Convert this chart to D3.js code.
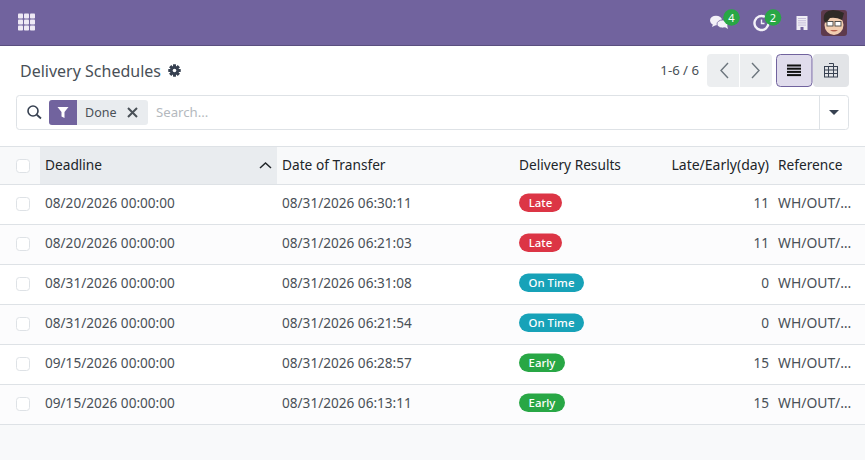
<!DOCTYPE html>
<html>
<head>
<meta charset="utf-8">
<script src="https://cdn.jsdelivr.net/npm/d3@7"></script>
<style>
html, body { margin: 0; padding: 0; background: #fff; overflow: hidden; }
text { font-family: "Noto Sans", sans-serif; }
</style>
</head>
<body>
<div id="chart"></div>
<script>
// Table content
var columns = ["Deadline", "Date of Transfer", "Delivery Results", "Late/Early(day)", "Reference"];
var deadlines = ["08/20/2026 00:00:00", "08/20/2026 00:00:00", "08/31/2026 00:00:00", "08/31/2026 00:00:00", "09/15/2026 00:00:00", "09/15/2026 00:00:00"];
var transfers = ["08/31/2026 06:30:11", "08/31/2026 06:21:03", "08/31/2026 06:31:08", "08/31/2026 06:21:54", "08/31/2026 06:28:57", "08/31/2026 06:13:11"];
var results = ["Late", "Late", "On Time", "On Time", "Early", "Early"];
var lateDays = [11, 11, 0, 0, 15, 15];
var references = ["WH/OUT/…", "WH/OUT/…", "WH/OUT/…", "WH/OUT/…", "WH/OUT/…", "WH/OUT/…"];
var resultNames = ["Late", "On Time", "Early"];
var resultColors = ["#dc3545", "#17a2b8", "#28a745"];

var width = 865, height = 460;
var svg = d3.select("#chart").append("svg")
  .attr("width", width).attr("height", height)
  .style("display", "block");

var y = d3.scaleBand().domain(d3.range(deadlines.length)).range([184, 424]);
var badgeColor = d3.scaleOrdinal().domain(resultNames).range(resultColors);
var badgeWidth = d3.scaleOrdinal().domain(resultNames).range([43, 65, 46]);

// helper for plain text
function label(x, yy, str, size, color, anchor, weight) {
  return svg.append("text")
    .attr("x", x).attr("y", yy)
    .attr("font-size", size)
    .attr("fill", color)
    .attr("text-anchor", anchor || "start")
    .attr("font-weight", weight || 400)
    .text(str);
}

// Navbar
svg.append("rect").attr("width", width).attr("height", 45).attr("fill", "#71639e");
svg.append("rect").attr("y", 45).attr("width", width).attr("height", 1).attr("fill", "#5a4f7f");

// apps icon
d3.range(9).forEach(function(i) {
  svg.append("rect")
    .attr("x", 18 + (i % 3) * 6).attr("y", 13.5 + Math.floor(i / 3) * 6)
    .attr("width", 5).attr("height", 5).attr("rx", 0.8)
    .attr("fill", "#eee9f5");
});

// messages icon
var msg = svg.append("g").attr("fill", "#f3f1f8");
msg.append("ellipse").attr("cx", 716).attr("cy", 20.5).attr("rx", 6).attr("ry", 4.8);
msg.append("ellipse").attr("cx", 722.5).attr("cy", 24).attr("rx", 5.5).attr("ry", 4).attr("stroke", "#71639e").attr("stroke-width", 0.8);
msg.append("path").attr("d", "M724 26.5l4 2.5-1-4z");
msg.append("path").attr("d", "M713 24l-1 3 4-2z");
svg.append("circle").attr("cx", 731.5).attr("cy", 17.5).attr("r", 8.3).attr("fill", "#28a745");
label(731.5, 21.5, "4", 11, "#fff", "middle");

// activities icon
svg.append("path")
  .attr("d", "M765 17a7 7 0 1 0 3.5 6")
  .attr("fill", "none").attr("stroke", "#f3f1f8").attr("stroke-width", 2.4);
svg.append("path").attr("d", "M761.5 19.5v4h3").attr("fill", "none").attr("stroke", "#f3f1f8").attr("stroke-width", 1.4);
svg.append("circle").attr("cx", 773).attr("cy", 17.5).attr("r", 8.3).attr("fill", "#28a745");
label(773, 21.5, "2", 11, "#fff", "middle");

// company icon
svg.append("rect").attr("x", 796.5).attr("y", 16).attr("width", 11).attr("height", 14).attr("fill", "#efedf5");
d3.range(4).forEach(function(i) {
  svg.append("line").attr("x1", 798).attr("x2", 806).attr("y1", 18.5 + i * 2.2).attr("y2", 18.5 + i * 2.2)
    .attr("stroke", "#b4abcf").attr("stroke-width", 0.7);
});
svg.append("rect").attr("x", 800.5).attr("y", 27).attr("width", 3).attr("height", 3).attr("fill", "#71639e");

// avatar
svg.append("rect").attr("x", 821).attr("y", 10).attr("width", 26).attr("height", 26).attr("rx", 3).attr("fill", "#5e3a4c");
svg.append("ellipse").attr("cx", 834).attr("cy", 25).attr("rx", 9.5).attr("ry", 10).attr("fill", "#f2cdb0");
svg.append("path").attr("d", "M824 21q-2-10 9-11 6 0 11 3l-2 7q-6-3-12-2l-4 5z").attr("fill", "#2f2a26");
svg.append("rect").attr("x", 827).attr("y", 21.5).attr("width", 6).attr("height", 4.5).attr("fill", "#fff").attr("stroke", "#444").attr("stroke-width", 0.9);
svg.append("rect").attr("x", 835).attr("y", 21.5).attr("width", 6).attr("height", 4.5).attr("fill", "#fff").attr("stroke", "#444").attr("stroke-width", 0.9);
svg.append("path").attr("d", "M830 30q4 3 8 0").attr("fill", "#b5604f");

// Title row
label(20, 77, "Delivery Schedules", 16, "#495057");
var gear = svg.append("g").attr("transform", "translate(174.5,70.5)");
d3.range(8).forEach(function(i) {
  gear.append("rect").attr("x", -1.4).attr("y", -6).attr("width", 2.8).attr("height", 12)
    .attr("fill", "#374151").attr("transform", "rotate(" + i * 45 + ")");
});
gear.append("circle").attr("r", 4.3).attr("fill", "#374151");
gear.append("circle").attr("r", 1.8).attr("fill", "#fff");

// Pager and view switcher
label(699, 75, "1-6 / 6", 13.2, "#495057", "end");
svg.append("rect").attr("x", 707).attr("y", 54).attr("width", 65).attr("height", 33).attr("rx", 4).attr("fill", "#eceef0");
svg.append("line").attr("x1", 739.5).attr("x2", 739.5).attr("y1", 54).attr("y2", 87).attr("stroke", "#fff");
svg.append("path").attr("d", "M728 63l-7 7.5 7 7.5").attr("fill", "none").attr("stroke", "#6c757d").attr("stroke-width", 1.4);
svg.append("path").attr("d", "M752 63l7 7.5-7 7.5").attr("fill", "none").attr("stroke", "#6c757d").attr("stroke-width", 1.4);
svg.append("rect").attr("x", 813).attr("y", 54).attr("width", 36).attr("height", 33).attr("rx", 4).attr("fill", "#e2e4e7");
svg.append("rect").attr("x", 776.5).attr("y", 54.5).attr("width", 35.5).attr("height", 32).attr("rx", 4).attr("fill", "#e0dcec").attr("stroke", "#71639e");
d3.range(4).forEach(function(i) {
  svg.append("rect").attr("x", 787).attr("y", 64.5 + i * 3.2).attr("width", 14).attr("height", 2).attr("fill", "#111");
});
var grid = svg.append("g").attr("fill", "none").attr("stroke", "#374151").attr("stroke-width", 1);
grid.append("rect").attr("x", 824.5).attr("y", 66.5).attr("width", 13).attr("height", 10.5);
grid.append("path").attr("d", "M824.5 70h13M824.5 73.5h13M828.5 66.5v10.5M833.5 63.5v13.5M829 63.5h4.5");

// Search bar
svg.append("rect").attr("x", 16.5).attr("y", 95.5).attr("width", 832).attr("height", 34).attr("rx", 3).attr("fill", "#fff").attr("stroke", "#dee2e6");
svg.append("line").attr("x1", 819.5).attr("x2", 819.5).attr("y1", 96).attr("y2", 129).attr("stroke", "#dee2e6");
svg.append("path").attr("d", "M829 110h10l-5 5z").attr("fill", "#374151");
svg.append("circle").attr("cx", 33).attr("cy", 111).attr("r", 5).attr("fill", "none").attr("stroke", "#374151").attr("stroke-width", 1.6);
svg.append("line").attr("x1", 36.8).attr("y1", 114.8).attr("x2", 41).attr("y2", 118.5).attr("stroke", "#374151").attr("stroke-width", 1.8);
svg.append("rect").attr("x", 49).attr("y", 100).attr("width", 99).attr("height", 25).attr("rx", 3).attr("fill", "#e9ecef");
svg.append("path").attr("d", "M52 100h25v25h-25a3 3 0 0 1-3-3v-19a3 3 0 0 1 3-3z").attr("fill", "#71639e");
svg.append("path").attr("d", "M57.5 107h11l-4 5v6l-3-1.5v-4.5z").attr("fill", "#fff");
label(85, 117, "Done", 12.5, "#495057");
svg.append("path").attr("d", "M128 108l9 9M137 108l-9 9").attr("stroke", "#495057").attr("stroke-width", 2);
label(156, 117, "Search...", 13.2, "#b4b9be");

// Page background under the table
svg.append("rect").attr("y", 146).attr("width", width).attr("height", height - 146).attr("fill", "#f8f9fa");

// Table header
svg.append("rect").attr("y", 147).attr("width", width).attr("height", 37).attr("fill", "#f8f9fa");
svg.append("rect").attr("x", 40).attr("y", 147).attr("width", 237).attr("height", 37).attr("fill", "#e9ecef");
svg.append("line").attr("x1", 0).attr("x2", width).attr("y1", 146.5).attr("y2", 146.5).attr("stroke", "#dee2e6");
svg.append("path").attr("d", "M260 168l5.5-5 5.5 5").attr("fill", "none").attr("stroke", "#212529").attr("stroke-width", 1.5);

var columnX = [45, 282, 519, 769, 778];
var columnAnchor = ["start", "start", "start", "end", "start"];
columns.forEach(function(c, i) {
  label(columnX[i], 170, c, i === 3 ? 14 : 13.7, "#212529", columnAnchor[i]);
});

function checkbox(yy) {
  svg.append("rect").attr("x", 16.5).attr("y", yy - 6.5).attr("width", 13).attr("height", 13).attr("rx", 3)
    .attr("fill", "#fff").attr("stroke", "#dee2e6");
}
checkbox(166);

// Rows
var rows = svg.selectAll("g.row")
  .data(deadlines)
  .enter().append("g")
    .attr("class", "row")
    .attr("transform", function(d, i) { return "translate(0," + y(i) + ")"; });

rows.append("rect")
  .attr("width", width).attr("height", y.bandwidth())
  .attr("fill", function(d, i) { return i % 2 ? "#fcfcfd" : "#fff"; });
rows.append("line")
  .attr("x1", 0).attr("x2", width)
  .attr("y1", 0.5).attr("y2", 0.5)
  .attr("stroke", "#dee2e6");

rows.append("rect")
  .attr("x", 16.5).attr("y", 13.5).attr("width", 13).attr("height", 13).attr("rx", 3)
  .attr("fill", "#fff").attr("stroke", "#dee2e6");

function cell(x, color, anchor, values, size) {
  rows.append("text")
    .attr("x", x).attr("y", 24)
    .attr("font-size", size)
    .attr("fill", color)
    .attr("text-anchor", anchor)
    .text(function(d, i) { return values[i]; });
}
cell(45, "#495057", "start", deadlines, 13.6);
cell(282, "#495057", "start", transfers, 13.6);
cell(769, "#495057", "end", lateDays, 13.6);
cell(778, "#495057", "start", references, 13.9);

rows.append("rect")
  .attr("x", 519).attr("y", 9.5)
  .attr("width", function(d, i) { return badgeWidth(results[i]); })
  .attr("height", 18.5).attr("rx", 9.25)
  .attr("fill", function(d, i) { return badgeColor(results[i]); });
rows.append("text")
  .attr("x", function(d, i) { return 519 + badgeWidth(results[i]) / 2; })
  .attr("y", 23)
  .attr("font-size", 11.4)
  .attr("font-weight", 500)
  .attr("fill", "#fff")
  .attr("text-anchor", "middle")
  .text(function(d, i) { return results[i]; });

// bottom border
svg.append("line").attr("x1", 0).attr("x2", width).attr("y1", 424.5).attr("y2", 424.5).attr("stroke", "#dee2e6");
</script>
</body>
</html>
